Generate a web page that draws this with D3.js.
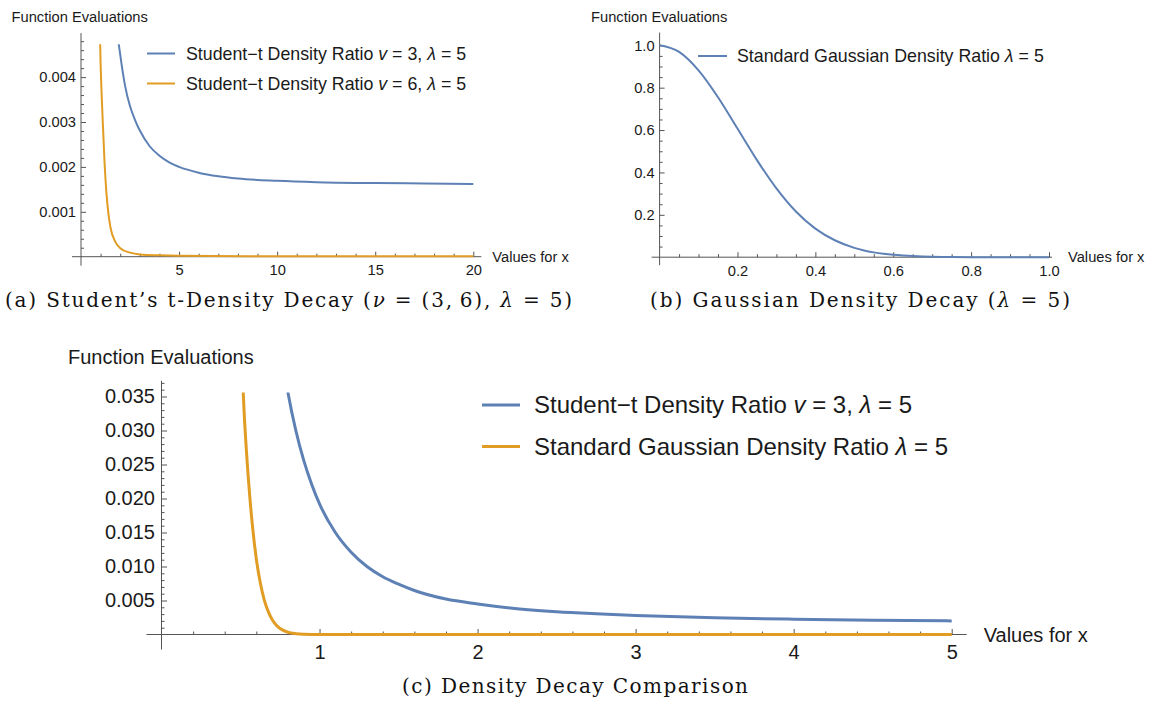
<!DOCTYPE html>
<html>
<head>
<meta charset="utf-8">
<script src="https://cdn.jsdelivr.net/npm/d3@7/dist/d3.min.js"></script>
<style>
  html, body { margin: 0; padding: 0; background: #fff; }
  svg { display: block; }
  .tick text { fill: #1a1a1a; }
</style>
</head>
<body>
<div id="chart"></div>
<script>
'use strict';

// Student-t density ratio, v = 3, lambda = 5 (used in panels a and c)
const t3X = [0.78, 0.8, 0.85, 0.9, 0.95, 1.0, 1.1, 1.2, 1.3, 1.4, 1.5, 1.6, 1.8, 2.0, 2.25, 2.5, 2.75, 3.0, 3.5, 4.0, 4.5, 5, 6, 7, 8, 10, 12, 15, 17.5, 20];
const t3V = [0.0383, 0.0356, 0.0300, 0.0256, 0.0221, 0.0192, 0.0150, 0.0121, 0.0100, 0.0085, 0.0074, 0.00647, 0.00521, 0.0045, 0.0038, 0.00335, 0.00305, 0.00281, 0.00246, 0.00225, 0.0021, 0.0020, 0.00187, 0.00179, 0.00174, 0.00169, 0.00166, 0.00164, 0.00163, 0.00162];

// Student-t density ratio, v = 6, lambda = 5 (panel a)
const t6X = [0.9, 0.95, 1.0, 1.1, 1.2, 1.3, 1.4, 1.5, 1.75, 2.0, 2.5, 3, 4, 5, 10, 20];
const t6V = [0.0062, 0.0052, 0.0043, 0.0031, 0.0021, 0.0014, 0.00095, 0.00066, 0.00033, 0.00019, 0.00009, 0.00005, 0.00003, 0.00002, 0.00001, 0.00001];

// standard Gaussian density ratio, lambda = 5 (panels b and c)
const gX = [0, 0.05, 0.1, 0.15, 0.2, 0.25, 0.3, 0.35, 0.4, 0.45, 0.5, 0.525, 0.55, 0.575, 0.6, 0.625, 0.65, 0.675, 0.7, 0.725, 0.75, 0.8, 0.85, 0.9, 1.0, 5.0];
const gV = [1.0, 0.969, 0.882, 0.755, 0.607, 0.458, 0.325, 0.216, 0.135, 0.080, 0.044, 0.0317, 0.0228, 0.0161, 0.0111, 0.0076, 0.0051, 0.0034, 0.0022, 0.0014, 0.00088, 0.00033, 0.00012, 0.00004, 0.0, 0.0];

const xTicksA = [5, 10, 15, 20];
const yTicksA = [0.001, 0.002, 0.003, 0.004];
const xTicksB = [0.2, 0.4, 0.6, 0.8, 1.0];
const yTicksB = [0.2, 0.4, 0.6, 0.8, 1.0];
const xTicksC = [1, 2, 3, 4, 5];
const yTicksC = [0.005, 0.010, 0.015, 0.020, 0.025, 0.030, 0.035];

const blue = '#5e81b5';
const orange = '#e19c24';
const sans = '"Liberation Sans", Arial, sans-serif';
const serif = '"DejaVu Serif", "Liberation Serif", serif';

const width = 1150;
const height = 702;

const svg = d3.select('#chart').append('svg')
    .attr('width', width)
    .attr('height', height);

const zip = (xs, ys) => xs.map((v, i) => ({x: v, y: ys[i]}));

// minor tick positions between majors (not data)
function minors(step, max, majorStep) {
    return d3.range(step, max + step / 2, step)
        .filter(v => Math.abs(v / majorStep - Math.round(v / majorStep)) > 1e-6);
}

let clipId = 0;

function drawPanel(p) {
    const g = svg.append('g');
    const x = d3.scaleLinear().domain(p.xDomain).range(p.xRange);
    const y = d3.scaleLinear().domain(p.yDomain).range(p.yRange);

    // axis lines, crossing at the origin with a small overshoot
    g.append('line')
        .attr('x1', x(0) - p.over).attr('x2', x(p.xDomain[1]) + p.xEnd)
        .attr('y1', y(0)).attr('y2', y(0))
        .attr('stroke', '#555').attr('stroke-width', 1);
    g.append('line')
        .attr('x1', x(0)).attr('x2', x(0))
        .attr('y1', y(0) + p.over).attr('y2', y(p.yAxisTop))
        .attr('stroke', '#555').attr('stroke-width', 1);

    const noDomain = s => s.select('.domain').remove();

    g.append('g')
        .attr('transform', `translate(0,${y(0)})`)
        .call(d3.axisBottom(x).tickValues(p.xMinor).tickSizeInner(-p.minorLen).tickSizeOuter(0).tickFormat(''))
        .call(noDomain);
    g.append('g')
        .attr('transform', `translate(0,${y(0)})`)
        .call(d3.axisBottom(x).tickValues(p.xMajor).tickSizeInner(-p.majorLen).tickSizeOuter(0)
            .tickPadding(p.xPad).tickFormat(p.xFmt))
        .call(noDomain);
    g.append('g')
        .attr('transform', `translate(${x(0)},0)`)
        .call(d3.axisLeft(y).tickValues(p.yMinor).tickSizeInner(-p.minorLen).tickSizeOuter(0).tickFormat(''))
        .call(noDomain);
    g.append('g')
        .attr('transform', `translate(${x(0)},0)`)
        .call(d3.axisLeft(y).tickValues(p.yMajor).tickSizeInner(-p.majorLen).tickSizeOuter(0)
            .tickPadding(p.yPad).tickFormat(p.yFmt))
        .call(noDomain);

    g.selectAll('.tick line').attr('stroke', '#555');
    g.selectAll('.tick text')
        .attr('font-family', sans)
        .attr('font-size', p.fontSize);

    // axis labels
    g.append('text')
        .attr('x', p.yLabel[0]).attr('y', p.yLabel[1])
        .attr('font-family', sans).attr('font-size', p.fontSize)
        .attr('fill', '#1a1a1a')
        .text('Function Evaluations');
    g.append('text')
        .attr('x', x(p.xDomain[1]) + p.xLabelGap).attr('y', y(0))
        .attr('dy', '0.35em')
        .attr('font-family', sans).attr('font-size', p.fontSize)
        .attr('fill', '#1a1a1a')
        .text('Values for x');

    // curves
    const id = 'clip' + (clipId++);
    g.append('clipPath').attr('id', id)
        .append('rect')
        .attr('x', x(p.xDomain[0]) - 2)
        .attr('y', y(p.clipTop))
        .attr('width', x(p.xDomain[1]) - x(p.xDomain[0]) + 4)
        .attr('height', y(0) - y(p.clipTop) + 4);

    const line = d3.line()
        .x(d => x(d.x))
        .y(d => y(d.y))
        .curve(d3.curveMonotoneX);

    g.append('g')
        .attr('clip-path', `url(#${id})`)
        .selectAll('path')
        .data(p.series)
        .enter()
        .append('path')
        .attr('d', s => line(s.data.filter(d => d.x <= p.xDomain[1] + 1e-9)))
        .attr('fill', 'none')
        .attr('stroke', s => s.color)
        .attr('stroke-width', p.lineWidth)
        .attr('stroke-linejoin', 'round');

    // legend
    const leg = g.append('g')
        .selectAll('g')
        .data(p.series)
        .enter()
        .append('g')
        .attr('transform', (s, i) => `translate(${p.legend.x},${p.legend.y + i * p.legend.dy})`);
    leg.append('line')
        .attr('x1', 0).attr('x2', p.legend.len)
        .attr('y1', 0).attr('y2', 0)
        .attr('stroke', s => s.color)
        .attr('stroke-width', p.lineWidth);
    const lt = leg.append('text')
        .attr('x', p.legend.len + p.legend.gap)
        .attr('dy', '0.35em')
        .attr('font-family', sans)
        .attr('font-size', p.legend.size)
        .attr('fill', '#1a1a1a');
    lt.each(function (s) {
        const t = d3.select(this);
        s.label.forEach(part => {
            t.append('tspan')
                .attr('font-style', part.it ? 'italic' : null)
                .text(part.t);
        });
    });
}

const labelT3 = [{t: 'Student\u2212t Density Ratio '}, {t: 'v', it: true}, {t: ' = 3, '}, {t: '\u03bb', it: true}, {t: ' = 5'}];
const labelT6 = [{t: 'Student\u2212t Density Ratio '}, {t: 'v', it: true}, {t: ' = 6, '}, {t: '\u03bb', it: true}, {t: ' = 5'}];
const labelG = [{t: 'Standard Gaussian Density Ratio '}, {t: '\u03bb', it: true}, {t: ' = 5'}];

const f3 = d3.format('.3f');
const f1 = d3.format('.1f');

// (a)
drawPanel({
    xDomain: [0, 20], xRange: [81, 473.3],
    yDomain: [0, 0.005], yRange: [256.7, 32.2],
    yAxisTop: 0.00498, clipTop: 0.00473,
    over: 9, xEnd: 8,
    xMajor: xTicksA, xMinor: minors(1, 20, 5),
    yMajor: yTicksA, yMinor: minors(0.0002, 0.0048, 0.001),
    xFmt: d3.format('d'), yFmt: f3,
    majorLen: 5, minorLen: 3, xPad: 8, yPad: 5,
    fontSize: 14.7,
    yLabel: [11.5, 22], xLabelGap: 19,
    lineWidth: 2,
    series: [
        {data: zip(t3X, t3V), color: blue, label: labelT3},
        {data: zip(t6X, t6V), color: orange, label: labelT6}
    ],
    legend: {x: 147, y: 53.5, dy: 30, len: 28, gap: 11, size: 17.8}
});

// (b)
drawPanel({
    xDomain: [0, 1], xRange: [659.6, 1049],
    yDomain: [0, 1], yRange: [257.2, 45.3],
    yAxisTop: 1.06, clipTop: 1.05,
    over: 8, xEnd: 3,
    xMajor: xTicksB, xMinor: minors(0.05, 1.0, 0.2),
    yMajor: yTicksB, yMinor: minors(0.05, 1.0, 0.2),
    xFmt: f1, yFmt: f1,
    majorLen: 5, minorLen: 3, xPad: 8, yPad: 5,
    fontSize: 14.7,
    yLabel: [591, 22], xLabelGap: 19,
    lineWidth: 2,
    series: [
        {data: zip(gX, gV), color: blue, label: labelG}
    ],
    legend: {x: 698, y: 56, dy: 30, len: 29, gap: 10, size: 17.8}
});

// (c)
drawPanel({
    xDomain: [0, 5], xRange: [161.5, 951.7],
    yDomain: [0, 0.035], yRange: [634.5, 396.5],
    yAxisTop: 0.0373, clipTop: 0.0356,
    over: 15, xEnd: 15,
    xMajor: xTicksC, xMinor: minors(0.2, 5, 1),
    yMajor: yTicksC, yMinor: minors(0.001, 0.037, 0.005),
    xFmt: d3.format('d'), yFmt: f3,
    majorLen: 5.5, minorLen: 3, xPad: 10, yPad: 6.5,
    fontSize: 20,
    yLabel: [68, 364], xLabelGap: 32,
    lineWidth: 3,
    series: [
        {data: zip(t3X, t3V), color: blue, label: labelT3},
        {data: zip(gX, gV), color: orange, label: labelG}
    ],
    legend: {x: 482, y: 405, dy: 41.5, len: 38, gap: 14, size: 24}
});

// captions (widths fitted to the original's Computer Modern setting)
const captions = [
    {x: 5, y: 307, w: 567, parts: [{t: '(a) Student\u2019s t-Density Decay ('}, {t: '\u03bd', it: true}, {t: ' = (3,\u20096), '}, {t: '\u03bb', it: true}, {t: ' = 5)'}]},
    {x: 650, y: 307, w: 420, parts: [{t: '(b) Gaussian Density Decay ('}, {t: '\u03bb', it: true}, {t: ' = 5)'}]},
    {x: 402, y: 693, w: 346, parts: [{t: '(c) Density Decay Comparison'}]}
];

svg.append('g')
    .selectAll('text')
    .data(captions)
    .enter()
    .append('text')
    .attr('x', d => d.x)
    .attr('y', d => d.y)
    .attr('font-family', serif)
    .attr('font-size', 20)
    .attr('fill', '#111')
    .attr('textLength', d => d.w)
    .attr('lengthAdjust', 'spacing')
    .each(function (d) {
        const t = d3.select(this);
        d.parts.forEach(part => {
            t.append('tspan')
                .attr('font-style', part.it ? 'italic' : null)
                .text(part.t);
        });
    });
</script>
</body>
</html>
